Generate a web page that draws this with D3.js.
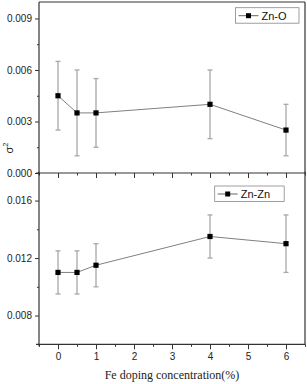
<!DOCTYPE html>
<html><head><meta charset="utf-8">
<script src="https://cdn.jsdelivr.net/npm/d3@7"></script>
<style>body{margin:0;background:#fff}svg{display:block}</style>
</head><body>
<script>
const xVals = [0, 0.5, 1, 4, 6];
const znO = [0.0045, 0.0035, 0.0035, 0.0040, 0.0025];
const znOErr = [0.0020, 0.0025, 0.0020, 0.0020, 0.0015];
const znZn = [0.0110, 0.0110, 0.0115, 0.0135, 0.0130];
const znZnErr = [0.0015, 0.0015, 0.0015, 0.0015, 0.0020];
const xTicks = [0, 1, 2, 3, 4, 5, 6];
const topTicks = [0, 0.003, 0.006, 0.009];
const botTicks = [0.008, 0.012, 0.016];

const W = 307, H = 384;
const L = 39, R = 305;
const svg = d3.select("body").append("svg").attr("width", W).attr("height", H);
const x = d3.scaleLinear().domain([-0.5, 6.5]).range([L, R]);
const yTop = d3.scaleLinear().domain([0, 0.01]).range([173, 1.3]);
const yBot = d3.scaleLinear().domain([0.006, 0.018]).range([344.3, 171.8]);

function panel(y, vals, errs, majors, minors, fmt, label, legendX, legendY, legendW, showLabels) {
  const g = svg.append("g");
  const y0 = y.range()[0], y1 = Math.max(y.range()[1], 2);
  // error bars
  const eg = g.append("g").attr("stroke", "#a8a8a8").attr("stroke-width", 1.3);
  xVals.forEach((xv, i) => {
    const px = x(xv);
    eg.append("line").attr("x1", px).attr("x2", px).attr("y1", y(vals[i] - errs[i])).attr("y2", y(vals[i] + errs[i]));
    [vals[i] - errs[i], vals[i] + errs[i]].forEach(v => {
      eg.append("line").attr("x1", px - 2.5).attr("x2", px + 2.5).attr("y1", y(v)).attr("y2", y(v));
    });
  });
  // line
  g.append("path").datum(xVals.map((xv, i) => [xv, vals[i]]))
    .attr("fill", "none").attr("stroke", "#808080").attr("stroke-width", 1)
    .attr("d", d3.line().x(d => x(d[0])).y(d => y(d[1])));
  // markers
  g.selectAll("rect.m").data(xVals).enter().append("rect")
    .attr("x", (d) => x(d) - 2.6).attr("y", (d, i) => y(vals[i]) - 2.6)
    .attr("width", 5.2).attr("height", 5.2).attr("fill", "#000");
  // y axis
  const ya = g.append("g").attr("transform", `translate(${L},0)`)
    .call(d3.axisLeft(y).tickValues(majors).tickFormat(fmt).tickSize(4).tickPadding(3));
  ya.select(".domain").remove();
  ya.selectAll("text").attr("font-family", "Arial, 'Liberation Sans', sans-serif").attr("font-size", 10).attr("fill", "#222");
  ya.selectAll("line").attr("stroke", "#333");
  const ym = g.append("g").attr("transform", `translate(${L},0)`)
    .call(d3.axisLeft(y).tickValues(minors).tickFormat("").tickSize(2));
  ym.select(".domain").remove();
  ym.selectAll("line").attr("stroke", "#333");
  // x axis
  const xa = g.append("g").attr("transform", `translate(0,${y0})`)
    .call(d3.axisBottom(x).tickValues(xTicks).tickFormat(showLabels ? d3.format("d") : "").tickSize(5).tickPadding(4));
  xa.select(".domain").remove();
  xa.selectAll("line").attr("stroke", "#333");
  xa.selectAll("text").attr("font-family", "Arial, 'Liberation Sans', sans-serif").attr("font-size", 10).attr("fill", "#222");
  const xm = g.append("g").attr("transform", `translate(0,${y0})`)
    .call(d3.axisBottom(x).tickValues(d3.range(-0.5, 6.6, 1)).tickFormat("").tickSize(2.5));
  xm.select(".domain").remove();
  xm.selectAll("line").attr("stroke", "#333");
  // frame
  g.append("line").attr("x1", L - 3).attr("x2", R).attr("y1", y0).attr("y2", y0).attr("stroke", "#333").attr("stroke-width", 1.2);
  g.append("line").attr("x1", L).attr("x2", L).attr("y1", y1).attr("y2", y0 + 2).attr("stroke", "#333").attr("stroke-width", 1.2);
  g.append("line").attr("x1", R).attr("x2", R).attr("y1", y1).attr("y2", y0).attr("stroke", "#333").attr("stroke-width", 1.2);
  // legend
  const lg = g.append("g").attr("transform", `translate(${legendX},${legendY})`);
  lg.append("rect").attr("x", 0).attr("y", 0).attr("width", legendW).attr("height", 15.5)
    .attr("fill", "#fff").attr("stroke", "#888").attr("stroke-width", 0.8);
  lg.append("line").attr("x1", 3).attr("x2", 23).attr("y1", 8).attr("y2", 8).attr("stroke", "#666").attr("stroke-width", 1);
  lg.append("rect").attr("x", 10.5).attr("y", 5.5).attr("width", 5).attr("height", 5).attr("fill", "#000");
  lg.append("text").attr("x", 26).attr("y", 12).attr("font-family", "Arial, 'Liberation Sans', sans-serif")
    .attr("font-size", 11).attr("fill", "#111").text(label);
}

// top border
svg.append("line").attr("x1", L).attr("x2", R).attr("y1", 2).attr("y2", 2).attr("stroke", "#333").attr("stroke-width", 1.2);

panel(yTop, znO, znOErr, topTicks, [0.0015, 0.0045, 0.0075], d3.format(".3f"), "Zn-O", 235.5, 7.7, 63.5, false);
panel(yBot, znZn, znZnErr, botTicks, [0.010, 0.014], d3.format(".3f"), "Zn-Zn", 214.7, 186, 69.5, true);

// y label
const yl = svg.append("text").attr("transform", "translate(13,148) rotate(-90)")
  .attr("text-anchor", "middle").attr("font-family", "Arial, 'Liberation Sans', sans-serif").attr("font-size", 11).attr("fill", "#222");
yl.append("tspan").text("σ");
yl.append("tspan").attr("font-size", 7.5).attr("dy", -5).text("2");

// x label
svg.append("text").attr("x", 172).attr("y", 379).attr("text-anchor", "middle")
  .attr("font-family", "'Liberation Serif', 'Times New Roman', serif").attr("font-size", 12).attr("fill", "#222")
  .text("Fe doping concentration(%)");
</script>
</body></html>
